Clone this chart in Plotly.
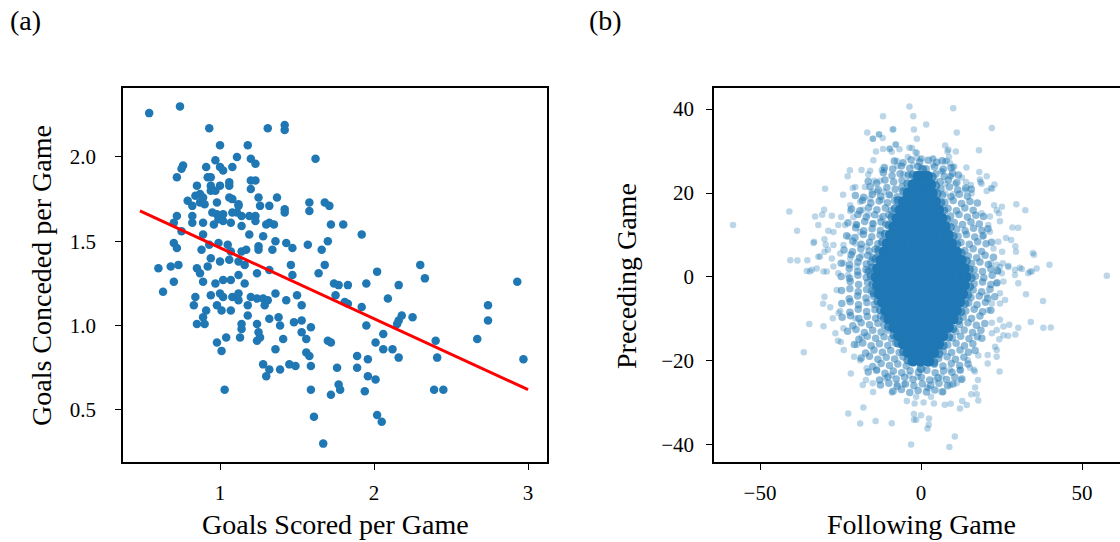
import plotly.graph_objects as go

# ---------------- Panel (a): goals scored vs conceded per game ----------------
team_points = [
    (0.54, 2.26), (0.74, 2.30), (0.93, 2.17), (1.31, 2.17), (1.42, 2.19), (1.42, 2.16),
    (1.00, 2.07), (1.18, 2.07), (1.62, 1.99), (1.11, 2.00), (1.20, 1.99), (1.23, 1.96),
    (0.97, 1.98), (0.76, 1.95), (0.75, 1.93), (0.91, 1.94), (1.00, 1.94), (1.02, 1.92),
    (1.08, 1.94), (0.72, 1.88), (0.92, 1.88), (0.94, 1.88), (1.06, 1.85), (1.06, 1.83),
    (1.00, 1.83), (0.94, 1.83), (0.85, 1.83), (1.20, 1.86), (1.23, 1.86), (1.20, 1.81),
    (0.94, 1.80), (0.97, 1.80), (0.84, 1.77), (0.87, 1.78), (0.89, 1.76), (0.79, 1.74),
    (0.82, 1.71), (0.87, 1.73), (0.90, 1.72), (0.98, 1.73), (1.06, 1.76), (1.08, 1.75),
    (1.12, 1.72), (1.12, 1.71), (1.25, 1.76), (1.26, 1.71), (1.32, 1.71), (1.37, 1.76),
    (1.42, 1.69), (1.42, 1.67), (1.58, 1.73), (1.58, 1.68), (1.68, 1.73), (1.71, 1.71),
    (1.72, 1.60), (1.57, 1.48), (1.66, 1.45), (1.70, 1.50), (1.68, 1.36), (1.64, 1.31),
    (1.47, 1.46), (1.43, 1.49), (1.36, 1.50), (1.34, 1.45), (1.28, 1.53), (1.25, 1.47),
    (1.25, 1.45), (1.19, 1.54), (1.35, 1.60), (1.32, 1.61), (1.30, 1.60), (1.23, 1.65),
    (1.23, 1.62), (1.19, 1.65), (1.14, 1.65), (1.11, 1.67), (1.08, 1.67), (1.02, 1.66),
    (0.98, 1.66), (0.95, 1.67), (0.99, 1.63), (1.02, 1.62), (1.07, 1.61), (1.14, 1.59),
    (0.96, 1.60), (0.89, 1.61), (0.82, 1.65), (0.82, 1.61), (0.72, 1.65), (0.70, 1.61),
    (0.75, 1.56), (0.89, 1.54), (0.70, 1.49), (0.72, 1.46), (0.88, 1.45), (0.93, 1.48),
    (0.99, 1.49), (1.05, 1.48), (1.07, 1.44), (1.14, 1.44), (1.17, 1.45), (0.94, 1.40),
    (1.00, 1.38), (1.06, 1.39), (1.12, 1.38), (1.16, 1.36), (0.92, 1.35), (0.85, 1.34),
    (0.73, 1.36), (0.68, 1.35), (0.60, 1.34), (1.24, 1.31), (1.32, 1.33), (1.46, 1.36),
    (1.47, 1.30), (1.80, 1.60), (1.92, 1.54), (2.30, 1.36), (2.02, 1.32), (2.33, 1.28),
    (2.93, 1.26), (0.70, 1.26), (0.63, 1.20), (0.84, 1.17), (0.83, 1.12), (0.89, 1.26),
    (0.87, 1.31), (0.97, 1.25), (0.94, 1.18), (1.00, 1.19), (1.02, 1.17), (0.98, 1.12),
    (1.01, 1.09), (1.07, 1.09), (0.91, 1.09), (0.89, 1.05), (0.85, 1.01), (0.90, 1.01),
    (1.02, 1.27), (1.07, 1.27), (1.12, 1.30), (1.16, 1.25), (1.08, 1.17), (1.12, 1.19),
    (1.12, 1.15), (1.18, 1.12), (1.20, 1.17), (1.24, 1.16), (1.28, 1.16), (1.31, 1.15),
    (1.36, 1.19), (1.29, 1.12), (1.43, 1.15), (1.50, 1.18), (1.53, 1.12), (1.18, 1.06),
    (1.14, 1.01), (1.14, 0.98), (1.24, 1.01), (1.25, 0.96), (1.26, 0.93), (1.24, 0.91),
    (1.32, 1.04), (1.38, 1.05), (1.39, 1.00), (1.48, 1.02), (1.53, 1.03), (1.59, 0.99),
    (1.53, 0.96), (1.56, 0.92), (1.41, 0.92), (1.36, 0.86), (1.13, 0.93), (1.04, 0.93),
    (0.98, 0.90), (1.01, 0.85), (1.28, 0.77), (1.32, 0.74), (1.30, 0.70), (1.39, 0.74),
    (1.45, 0.77), (1.49, 0.76), (1.56, 0.84), (1.58, 0.82), (1.59, 0.76), (1.70, 0.91),
    (1.72, 0.90), (1.03, 0.62), (1.59, 0.62), (1.72, 0.59), (1.61, 0.46), (1.67, 0.30),
    (1.74, 1.25), (1.77, 1.24), (1.83, 1.24), (1.95, 1.25), (2.16, 1.24), (2.09, 1.16),
    (1.75, 1.18), (1.81, 1.14), (1.83, 1.13), (1.92, 1.11), (2.74, 1.12), (2.74, 1.03),
    (2.18, 1.06), (2.16, 1.03), (2.25, 1.05), (2.15, 1.01), (1.95, 1.00), (2.06, 0.95),
    (2.01, 0.90), (2.06, 0.86), (2.12, 0.86), (2.16, 0.81), (2.40, 0.91), (2.41, 0.81),
    (2.67, 0.92), (2.97, 0.80), (1.89, 0.82), (1.76, 0.75), (1.89, 0.75), (1.96, 0.80),
    (1.96, 0.70), (2.01, 0.68), (1.77, 0.65), (1.78, 0.62), (1.94, 0.61), (2.39, 0.62),
    (2.45, 0.62), (2.02, 0.47), (2.05, 0.43),
]
scored = [p[0] for p in team_points]
conceded = [p[1] for p in team_points]

fit_scored = [0.48, 3.0]
fit_conceded = [1.68, 0.62]

# ---------------- Panel (b): following vs preceding game ----------------
# solid centre of the cloud
core_points = [
    (-1, 24), (0.5, 24), (2, 24),
    (-2.5, 22), (-0.2, 22), (1.6, 22), (3, 22),
    (-4, 20), (-1.7, 20), (0.6, 20), (2.4, 20), (3.5, 20),
    (-5.5, 18), (-3.2, 18), (-0.9, 18), (1.4, 18), (3.4, 18), (4.5, 18),
    (-6.5, 16), (-4.2, 16), (-1.9, 16), (0.4, 16), (2.7, 16), (4.6, 16), (5.5, 16),
    (-7.5, 14), (-5.2, 14), (-2.9, 14), (-0.6, 14), (1.7, 14), (4.0, 14), (5.8, 14), (6.5, 14),
    (-8.5, 12), (-6.2, 12), (-3.9, 12), (-1.6, 12), (0.7, 12), (3.0, 12), (5.3, 12), (7.5, 12),
    (-9.5, 10), (-7.2, 10), (-4.9, 10), (-2.6, 10), (-0.3, 10), (2.0, 10), (4.3, 10),
    (6.6, 10), (8.5, 10),
    (-10.5, 8), (-8.2, 8), (-5.9, 8), (-3.6, 8), (-1.3, 8), (1.0, 8), (3.3, 8), (5.6, 8),
    (7.9, 8), (9.5, 8),
    (-11.5, 6), (-9.2, 6), (-6.9, 6), (-4.6, 6), (-2.3, 6), (0, 6), (2.3, 6), (4.6, 6),
    (6.9, 6), (9.2, 6), (11, 6),
    (-12.5, 4), (-10.2, 4), (-7.9, 4), (-5.6, 4), (-3.3, 4), (-1.0, 4), (1.3, 4), (3.6, 4),
    (5.9, 4), (8.2, 4), (10.5, 4), (12.5, 4),
    (-13.5, 2), (-11.2, 2), (-8.9, 2), (-6.6, 2), (-4.3, 2), (-2.0, 2), (0.3, 2), (2.6, 2),
    (4.9, 2), (7.2, 2), (9.5, 2), (11.8, 2), (13.5, 2),
    (-14, 0), (-11.7, 0), (-9.4, 0), (-7.1, 0), (-4.8, 0), (-2.5, 0), (-0.2, 0), (2.1, 0),
    (4.4, 0), (6.7, 0), (9.0, 0), (11.3, 0), (13.6, 0), (14, 0),
    (-13.5, -2), (-11.2, -2), (-8.9, -2), (-6.6, -2), (-4.3, -2), (-2.0, -2), (0.3, -2),
    (2.6, -2), (4.9, -2), (7.2, -2), (9.5, -2), (11.8, -2), (13.5, -2),
    (-13, -4), (-10.7, -4), (-8.4, -4), (-6.1, -4), (-3.8, -4), (-1.5, -4), (0.8, -4),
    (3.1, -4), (5.4, -4), (7.7, -4), (10.0, -4), (12.3, -4), (13, -4),
    (-12, -6), (-9.7, -6), (-7.4, -6), (-5.1, -6), (-2.8, -6), (-0.5, -6), (1.8, -6),
    (4.1, -6), (6.4, -6), (8.7, -6), (11.0, -6), (12, -6),
    (-11, -8), (-8.7, -8), (-6.4, -8), (-4.1, -8), (-1.8, -8), (0.5, -8), (2.8, -8),
    (5.1, -8), (7.4, -8), (9.7, -8), (11, -8),
    (-10, -10), (-7.7, -10), (-5.4, -10), (-3.1, -10), (-0.8, -10), (1.5, -10), (3.8, -10),
    (6.1, -10), (8.4, -10), (10, -10),
    (-8.5, -12), (-6.2, -12), (-3.9, -12), (-1.6, -12), (0.7, -12), (3.0, -12), (5.3, -12),
    (7.6, -12), (8.5, -12),
    (-7, -14), (-4.7, -14), (-2.4, -14), (-0.1, -14), (2.2, -14), (4.5, -14), (6.8, -14),
    (-5.5, -16), (-3.2, -16), (-0.9, -16), (1.4, -16), (3.7, -16), (5.5, -16),
    (-4, -18), (-1.7, -18), (0.6, -18), (2.9, -18), (4, -18),
    (-2.5, -20), (-0.2, -20), (2.1, -20), (2.5, -20),
]

# crowded edge just outside the solid centre
edge_points = [
    (0.5, 25.6), (-2.5, 24.3), (3.5, 23.8), (-4.1, 22.2), (4.6, 21.7), (-5.4, 20.3),
    (5.1, 19.8), (-7.1, 18.2), (6.2, 17.7), (-8.0, 16.3), (7.1, 15.8), (-9.1, 14.2),
    (8.0, 13.7), (-10.0, 12.3), (9.1, 11.8), (-11.1, 10.2), (10.0, 9.7), (-12.0, 8.3),
    (11.1, 7.8), (-13.1, 6.2), (12.5, 5.7), (-14.0, 4.3), (14.1, 3.8), (-15.1, 2.2),
    (15.0, 1.7), (-15.5, 0.3), (15.6, -0.2), (-15.0, -1.8), (15.1, -2.3), (-14.6, -3.8),
    (14.5, -4.3), (-13.4, -5.8), (13.6, -6.3), (-12.6, -7.8), (12.4, -8.3), (-11.4, -9.8),
    (11.6, -10.3), (-10.1, -11.8), (9.9, -12.3), (-8.4, -13.8), (8.6, -14.3),
    (-7.1, -15.8), (6.9, -16.3), (-5.4, -17.8), (5.6, -18.3), (-4.1, -19.8), (4.0, -20.3),
    (0.0, -21.8),
]

# busy ring around the centre
ring_points = [
    (-8.3, 27.6), (-5.6, 27.2), (-3.1, 27.9), (-0.4, 27.4), (2.2, 27.8), (4.9, 27.3), (6.6, 27.7),
    (-11.4, 26.1), (-8.8, 25.7), (-6.1, 26.4), (-3.5, 25.9), (-1.0, 26.3), (1.6, 25.8),
    (4.2, 26.2), (6.9, 25.7), (9.3, 26.0),
    (-11.7, 24.8), (-9.0, 24.1), (-6.5, 24.6), (-4.0, 24.2), (4.6, 24.5),
    (7.2, 24.0), (9.8, 24.7), (11.6, 24.3),
    (-16.4, 22.8), (-13.8, 22.4), (-11.2, 23.1), (-8.5, 22.6), (-5.9, 23.0), (5.9, 22.7),
    (8.5, 23.1), (11.1, 22.5),
    (-15.8, 21.5), (-13.3, 20.8), (-10.6, 21.3), (-8.0, 20.9), (-5.9, 21.4),
    (6.2, 21.0), (8.8, 21.4), (11.4, 20.8), (13.9, 21.2), (15.6, 20.9),
    (-20.4, 19.4), (-17.8, 19.0), (-15.1, 19.7), (-12.5, 19.2), (-9.9, 19.6), (-7.4, 19.1),
    (6.7, 19.5), (9.3, 19.1), (11.9, 19.7), (14.4, 19.2),
    (-18.2, 18.3), (-15.6, 17.6), (-13.0, 18.1), (-10.4, 17.7), (-8.2, 18.2),
    (7.4, 17.8), (10.0, 18.2), (12.6, 17.5), (15.2, 18.0), (17.5, 17.6),
    (-21.6, 16.2), (-19.0, 15.8), (-16.3, 16.5), (-13.7, 16.0), (-11.1, 16.4), (-9.2, 15.9),
    (8.4, 16.3), (11.0, 15.8), (13.6, 16.4), (16.2, 15.9),
    (-19.6, 14.9), (-17.0, 14.3), (-14.4, 14.8), (-11.8, 14.4), (-10.0, 14.9),
    (9.2, 14.5), (11.8, 14.9), (14.4, 14.3), (17.0, 14.7), (19.4, 14.4),
    (-22.7, 12.9), (-20.1, 12.5), (-17.5, 13.2), (-14.9, 12.7), (-12.4, 13.1), (-11.0, 12.6),
    (10.3, 13.0), (12.9, 12.5), (15.5, 13.1), (18.1, 12.6),
    (-20.3, 11.7), (-17.8, 11.0), (-15.2, 11.5), (-12.6, 11.1),
    (11.1, 11.4), (13.7, 11.0), (16.3, 11.6), (18.9, 11.1), (20.8, 11.5),
    (-23.1, 9.8), (-20.5, 9.4), (-17.9, 10.1), (-15.3, 9.6), (-12.7, 10.0),
    (11.5, 9.7), (14.1, 10.1), (16.7, 9.5), (19.3, 9.9),
    (-21.2, 8.5), (-18.6, 7.8), (-16.0, 8.3), (-13.4, 7.9),
    (12.4, 8.2), (15.0, 7.8), (17.6, 8.4), (20.2, 7.9), (21.9, 8.3),
    (-23.9, 6.4), (-21.3, 6.0), (-18.7, 6.7), (-16.1, 6.2), (-14.2, 6.6),
    (13.6, 6.3), (16.2, 6.7), (18.8, 6.1),
    (-21.7, 5.3), (-19.1, 4.6), (-16.5, 5.1), (-14.9, 4.7),
    (14.7, 5.0), (17.3, 4.6), (19.9, 5.2), (22.5, 4.7),
    (-24.8, 3.3), (-22.2, 2.9), (-19.6, 3.6), (-17.0, 3.1), (-15.6, 3.5),
    (15.7, 3.2), (18.3, 3.6), (20.9, 3.0),
    (-22.3, 2.0), (-19.7, 1.3), (-17.1, 1.8), (-16.3, 1.4),
    (16.5, 1.7), (19.1, 1.3), (21.7, 1.9), (23.7, 1.5),
    (-24.8, 0.1), (-22.2, -0.3), (-19.6, 0.4), (-17.0, -0.1),
    (16.9, 0.2), (19.5, -0.2), (22.1, 0.4),
    (-22.0, -1.1), (-19.4, -1.8), (-16.6, -1.3),
    (16.5, -1.6), (19.1, -1.2), (21.7, -1.8), (23.6, -1.4),
    (-24.7, -3.2), (-22.1, -2.8), (-19.5, -3.5), (-16.9, -3.0), (-15.4, -3.4),
    (16.2, -3.1), (18.8, -3.5), (21.4, -2.9),
    (-22.3, -5.2), (-19.7, -4.5), (-17.1, -5.0), (-14.8, -4.6),
    (15.5, -4.9), (18.1, -4.5), (20.7, -5.1), (22.9, -4.7),
    (-24.6, -6.3), (-22.0, -5.9), (-19.4, -6.6), (-16.8, -6.1), (-14.5, -6.5),
    (14.8, -6.2), (17.4, -6.6), (20.0, -6.0),
    (-22.1, -8.4), (-19.5, -7.7), (-16.9, -8.2), (-14.3, -7.8),
    (13.9, -8.1), (16.5, -7.7), (19.1, -8.3), (21.7, -7.9),
    (-24.5, -9.6), (-21.9, -9.2), (-19.3, -9.9), (-16.7, -9.4), (-14.1, -9.8), (-12.6, -9.3),
    (13.1, -9.5), (15.7, -9.9), (18.3, -9.3),
    (-21.2, -11.6), (-18.6, -10.9), (-16.0, -11.4), (-13.4, -11.0),
    (-11.5, -11.5), (12.0, -11.3), (14.6, -10.9), (17.2, -11.5), (19.8, -11.1),
    (-22.8, -12.9), (-20.2, -12.5), (-17.6, -13.2), (-15.0, -12.7), (-12.4, -13.1),
    (-10.3, -12.6), (10.8, -13.0), (13.4, -12.6), (16.0, -13.2), (18.6, -12.7),
    (-19.3, -14.8), (-16.7, -14.1), (-14.1, -14.6), (-11.5, -14.2),
    (-9.2, -14.7), (9.7, -14.5), (12.3, -14.1), (14.9, -14.7), (17.5, -14.2), (18.9, -14.6),
    (-20.7, -16.1), (-18.1, -15.7), (-15.5, -16.4), (-12.9, -15.9), (-10.3, -16.3),
    (-7.9, -15.8), (8.3, -16.2), (10.9, -15.8), (13.5, -16.4), (16.1, -15.9),
    (-17.2, -18.1), (-14.6, -17.4), (-12.0, -17.9), (-9.4, -17.5),
    (-6.8, -18.0), (6.9, -17.6), (9.5, -18.0), (12.1, -17.4), (14.7, -17.9), (16.8, -17.5),
    (-18.6, -19.3), (-16.0, -18.9), (-13.4, -19.6), (-10.8, -19.1), (-8.2, -19.5),
    (-5.6, -19.0), (5.5, -19.4), (8.1, -19.0), (10.7, -19.6), (13.3, -19.1),
    (-15.0, -21.3), (-12.4, -20.6), (-9.8, -21.1), (-7.2, -20.7),
    (-4.6, -21.2), (4.2, -20.8), (6.8, -21.2), (9.4, -20.6), (12.0, -21.1), (14.6, -20.7),
    (-16.4, -22.6), (-13.8, -22.2), (-11.2, -22.9), (-8.6, -22.4), (-6.0, -22.8),
    (-3.4, -22.3), (-0.8, -22.7), (1.8, -22.2), (4.4, -22.8), (7.0, -22.3), (9.6, -22.7),
    (12.2, -22.2),
    (-12.9, -24.5), (-10.3, -23.8), (-7.7, -24.3), (-5.1, -23.9),
    (-2.5, -24.4), (0.1, -23.9), (2.7, -24.5), (5.3, -24.0), (7.9, -24.4), (10.5, -23.9),
    (12.7, -24.3),
    (-12.6, -25.7), (-10.0, -25.3), (-7.4, -26.0), (-4.8, -25.5), (-2.2, -25.9),
    (0.4, -25.4), (3.0, -25.8), (5.6, -25.3), (8.2, -25.9), (9.9, -25.5),
    (-8.7, -27.2), (-6.1, -26.8), (-3.5, -27.5), (-0.9, -27.0), (1.7, -27.4), (4.3, -26.9),
    (6.6, -27.3),
]

# scattered games away from the centre
outer_points = [
    (-3.6, 40.6), (10.0, 40.2), (-11.8, 38.3), (-2.4, 38.3), (1.6, 36.3), (22.0, 35.5),
    (-16.7, 34.4), (-8.8, 35.1), (-2.2, 35.1), (11.1, 34.4), (-13.0, 33.9), (-14.9, 32.9),
    (-11.9, 33.1), (-1.3, 32.9), (-7.9, 31.5), (7.5, 31.3), (-2.8, 30.7), (-11.8, 30.5),
    (-14.0, 29.9), (-9.8, 30.5), (-6.7, 30.4), (8.2, 29.9), (10.8, 29.9), (18.0, 30.2),
    (-9.1, 29.8), (-4.1, 28.6), (-1.3, 29.6), (-0.1, 28.1), (-14.8, 27.8), (-7.5, 27.7),
    (3.6, 28.1), (8.7, 28.6), (7.5, 27.5), (3.7, 26.7), (10.0, 26.2), (14.1, 26.1),
    (-22.1, 25.4), (-18.5, 25.5), (-22.8, 24.0), (-15.8, 25.3), (-12.2, 25.5), (6.3, 25.2),
    (9.2, 23.9), (18.1, 25.0), (20.4, 24.0), (12.7, 23.7), (18.3, 23.2), (18.8, 22.2),
    (22.8, 22.0), (21.7, 21.2), (20.4, 20.5), (-29.8, 21.0), (-24.2, 19.6), (-20.4, 21.4),
    (-21.2, 21.2), (-17.4, 21.4), (-40.9, 15.6), (-32.9, 14.4), (-30.7, 14.8), (-27.7, 14.6),
    (-24.8, 14.3), (-30.1, 16.0), (-58.4, 12.4), (-31.9, 12.4), (-38.5, 11.0), (-28.8, 11.0),
    (-27.2, 10.7), (-33.4, 8.1), (-30.0, 9.0), (-29.6, 7.7), (-28.9, 6.5), (-40.6, 4.0),
    (-38.4, 3.9), (-35.3, 4.0), (-31.4, 4.9), (-35.5, 1.4), (-33.9, 1.7), (29.6, 17.3),
    (32.4, 15.9), (25.1, 16.7), (24.2, 15.2), (24.5, 13.3), (28.4, 11.8), (30.2, 11.7),
    (26.4, 9.3), (28.0, 8.8), (29.3, 7.3), (29.5, 6.0), (25.2, 6.0), (34.7, 5.7),
    (35.1, 5.3), (39.9, 2.9), (35.9, 2.0), (34.4, 1.3), (31.3, 1.9), (57.7, 0.3),
    (27.1, 2.7), (25.4, 3.3), (23.5, 2.9), (21.7, 3.3),
    (37.9, -5.7), (34.1, -10.7), (38.0, -12.1), (40.3, -12.0), (30.2, -12.1), (29.3, -13.7),
    (27.1, -14.0), (25.6, -13.9), (24.3, -14.8), (23.5, -17.4), (20.7, -18.6), (20.7, -20.6),
    (24.4, -22.5), (17.7, -24.5), (16.8, -26.3), (15.6, -27.9), (17.3, -27.9), (17.8, -29.4),
    (12.8, -29.5), (14.2, -30.5), (12.1, -31.3), (9.2, -30.2), (7.4, -30.4), (10.5, -38.0),
    (8.8, -40.5), (-3.1, -39.9), (2.0, -36.1), (2.4, -35.2), (2.5, -33.7), (-2.2, -34.0),
    (-2.2, -32.6), (0.0, -32.9), (-9.1, -34.8), (-14.1, -34.3), (-18.9, -34.9), (-22.6, -32.5),
    (-17.9, -31.1), (-4.4, -29.5), (-2.0, -30.1), (0.8, -29.9), (4.0, -30.1), (3.1, -28.5),
    (6.9, -27.4), (-9.1, -27.5), (-14.9, -27.4), (-18.1, -25.7), (-17.1, -24.5), (-21.8, -23.0),
    (-36.4, -17.9), (-34.7, -11.2), (-30.3, -11.7), (-30.4, -6.4), (-30.0, -4.7), (-24.9, -15.5),
    (-24.0, -17.4), (-20.8, -19.0), (-15.0, -25.3), (-5.3, -25.5), (-7.5, -25.5), (9.0, -25.8),
    (11.1, -25.3), (12.5, -24.5), (16.7, -22.5), (14.5, -19.8), (15.2, -21.6), (16.4, -22.1),
    (23.5, -19.0),
    (-8.6, 35.2), (-13.1, 34.0), (-15.0, 32.9), (-7.8, 31.6), (-3.6, 30.8), (-9.7, 30.6),
    (-1.7, 29.7), (-1.3, 28.4), (-7.3, 26.4), (-2.4, 26.6), (-0.3, 26.2), (-16.4, 24.4),
    (-11.4, 25.5), (-14.5, 22.9), (-12.7, 22.9), (-5.5, 24.6), (-4.0, 24.4), (-0.3, 24.4),
    (-15.3, 20.3), (-13.6, 20.3), (-11.5, 20.3), (-9.6, 19.5), (-15.8, 18.7), (-12.2, 18.4),
    (-18.9, 17.9), (-22.0, 17.1), (-18.1, 16.0), (-22.0, 15.7), (-21.0, 14.2), (-16.4, 14.9),
    (-12.7, 14.0), (-15.0, 12.8), (-19.9, 12.4), (-23.6, 12.4), (-25.7, 12.4), (-18.9, 10.7),
    (-22.5, 9.6), (-33.2, 8.4), (-27.2, 7.6), (-24.1, 7.6), (-20.4, 8.0), (-16.8, 7.3),
    (-13.7, 6.9), (-30.0, 6.0), (-25.1, 5.6), (-31.9, 4.8), (-27.7, 4.4), (-22.0, 4.4),
    (-18.4, 5.2), (-15.3, 4.1), (-27.2, 2.5), (-24.1, 3.3), (-19.9, 2.5), (-34.5, 1.3),
    (-32.4, 2.0), (-29.3, 1.3), (-25.7, 0.9), (-22.6, 0.5), (-16.9, 1.3), (-13.3, 0.5),
    (8.5, 30.3), (3.8, 28.3), (8.0, 27.7), (9.0, 27.1), (10.3, 26.3), (0.2, 28.3),
    (6.7, 25.1), (9.2, 24.1), (1.2, 24.1), (4.3, 22.9), (7.5, 22.2), (10.6, 22.2),
    (14.0, 22.6), (15.5, 21.9), (18.5, 22.6), (22.1, 21.0), (7.5, 19.9), (10.0, 19.7),
    (13.7, 20.7), (15.7, 19.9), (22.7, 17.1), (23.5, 15.9), (21.4, 14.4), (18.8, 15.2),
    (20.9, 12.4), (21.4, 10.8), (24.0, 8.4), (19.2, 9.6), (22.5, 6.8), (33.3, 0.9),
    (27.1, 2.4), (24.5, 2.4), (29.2, 1.7), (30.7, 2.2), (24.0, 1.3),
    (-28.2, -7.2), (-27.4, -9.8), (-25.6, -8.6), (-26.6, -13.4), (-25.8, -15.2), (-24.1, -12.2),
    (-18.9, -19.8), (-16.9, -21.7), (-13.7, -22.1), (-11.2, -24.1), (-9.1, -23.4), (-1.5, -28.5),
    (-3.6, -23.4), (-1.0, -23.8), (1.8, -26.3), (-19.9, -16.2), (-18.4, -14.3), (-20.4, -9.9),
    (-25.1, -8.1), (-26.2, -3.1), (-30.3, 1.3), (-1.5, -34.0),
    (32.6, -4.1), (30.2, -1.5), (29.2, 0.5), (33.9, 1.3), (26.1, -5.5), (24.5, -6.3),
    (9.0, -22.1), (12.1, -22.1), (6.4, -23.7), (4.3, -24.5), (2.3, -26.5), (17.8, -18.7),
    (23.0, -16.6), (22.0, -13.4), (23.5, -12.6), (25.6, -11.8), (27.4, -11.4), (24.5, -10.2),
    (22.0, -10.9), (20.9, -7.9), (24.5, -3.9), (25.6, -1.1), (23.5, -1.5), (25.1, 0.9),
    (20.4, -4.3), (22.0, -6.3),
]

following_core = [p[0] for p in core_points]
preceding_core = [p[1] for p in core_points]
following_edge = [p[0] for p in edge_points]
preceding_edge = [p[1] for p in edge_points]
following_ring = [p[0] for p in ring_points]
preceding_ring = [p[1] for p in ring_points]
following_outer = [p[0] for p in outer_points]
preceding_outer = [p[1] for p in outer_points]

left_xticks = [1, 2, 3]
left_yticks = [0.5, 1.0, 1.5, 2.0]
right_xticks = [-50, 0, 50]
right_yticks = [-40, -20, 0, 20, 40]

BLUE = "#1f77b4"
FONT = "Liberation Serif"
W, H = 1120, 542

fig = go.Figure()

fig.add_trace(go.Scatter(
    x=scored, y=conceded, mode="markers", xaxis="x", yaxis="y",
    marker=dict(color=BLUE, size=8.5, line=dict(width=0)), showlegend=False,
))
fig.add_trace(go.Scatter(
    x=fit_scored, y=fit_conceded, mode="lines", xaxis="x", yaxis="y",
    line=dict(color="red", width=3), showlegend=False,
))

fig.add_trace(go.Scatter(
    x=following_ring, y=preceding_ring, mode="markers", xaxis="x2", yaxis="y2",
    marker=dict(color=BLUE, size=7.5, opacity=0.5, line=dict(width=0)), showlegend=False,
))
fig.add_trace(go.Scatter(
    x=following_core, y=preceding_core, mode="markers", xaxis="x2", yaxis="y2",
    marker=dict(color=BLUE, size=11, opacity=1.0, line=dict(width=0)), showlegend=False,
))
fig.add_trace(go.Scatter(
    x=following_edge, y=preceding_edge, mode="markers", xaxis="x2", yaxis="y2",
    marker=dict(color=BLUE, size=9, opacity=0.7, line=dict(width=0)), showlegend=False,
))
fig.add_trace(go.Scatter(
    x=following_outer, y=preceding_outer, mode="markers", xaxis="x2", yaxis="y2",
    marker=dict(color=BLUE, size=6.5, opacity=0.3, line=dict(width=0)), showlegend=False,
))

def px_x(p):
    return p / W

def px_y(p):
    return (H - p) / H

axis_common = dict(
    showgrid=False, zeroline=False, showline=True, linecolor="black", linewidth=1.5,
    ticks="outside", ticklen=6, tickwidth=1.3, tickcolor="black",
    tickfont=dict(family=FONT, size=21, color="black"),
)

fig.update_layout(
    width=W, height=H,
    margin=dict(l=0, r=0, t=0, b=0),
    paper_bgcolor="white", plot_bgcolor="white",
    font=dict(family=FONT, color="black"),
    xaxis=dict(domain=[px_x(123), px_x(547)], range=[0.370, 3.123], anchor="y",
               tickvals=left_xticks, mirror=True, ticklabelstandoff=5, **axis_common),
    yaxis=dict(domain=[px_y(462), px_y(88)], range=[0.191, 2.409], anchor="x",
               tickvals=left_yticks, tickformat=".1f", mirror=True, ticklabelstandoff=15,
               **axis_common),
    xaxis2=dict(domain=[px_x(714), 1.0], range=[-64.3, 61.8], anchor="y2",
                tickvals=right_xticks, mirror=True, ticklabelstandoff=5, **axis_common),
    yaxis2=dict(domain=[px_y(462), px_y(88)], range=[-44.05, 45.0], anchor="x2",
                tickvals=right_yticks, mirror=False, ticklabelstandoff=8, **axis_common),
)

title_font = dict(family=FONT, size=28, color="black")
annotations = [
    dict(text="(a)", x=px_x(8), y=px_y(20), xanchor="left", yanchor="middle"),
    dict(text="(b)", x=px_x(587), y=px_y(20), xanchor="left", yanchor="middle"),
    dict(text="Goals Scored per Game", x=px_x(335), y=px_y(524), xanchor="center", yanchor="middle"),
    dict(text="Following Game", x=px_x(921), y=px_y(524), xanchor="center", yanchor="middle"),
    dict(text="Goals Conceded per Game", x=px_x(41), y=px_y(276), xanchor="center",
         yanchor="middle", textangle=-90),
    dict(text="Preceding Game", x=px_x(626), y=px_y(276), xanchor="center",
         yanchor="middle", textangle=-90),
]
for a in annotations:
    fig.add_annotation(xref="paper", yref="paper", showarrow=False, font=title_font, **a)

fig.write_html(
    "out.html",
    config={"displayModeBar": False},
    post_script="document.body.style.margin='0px';document.body.style.overflow='hidden';",
)
